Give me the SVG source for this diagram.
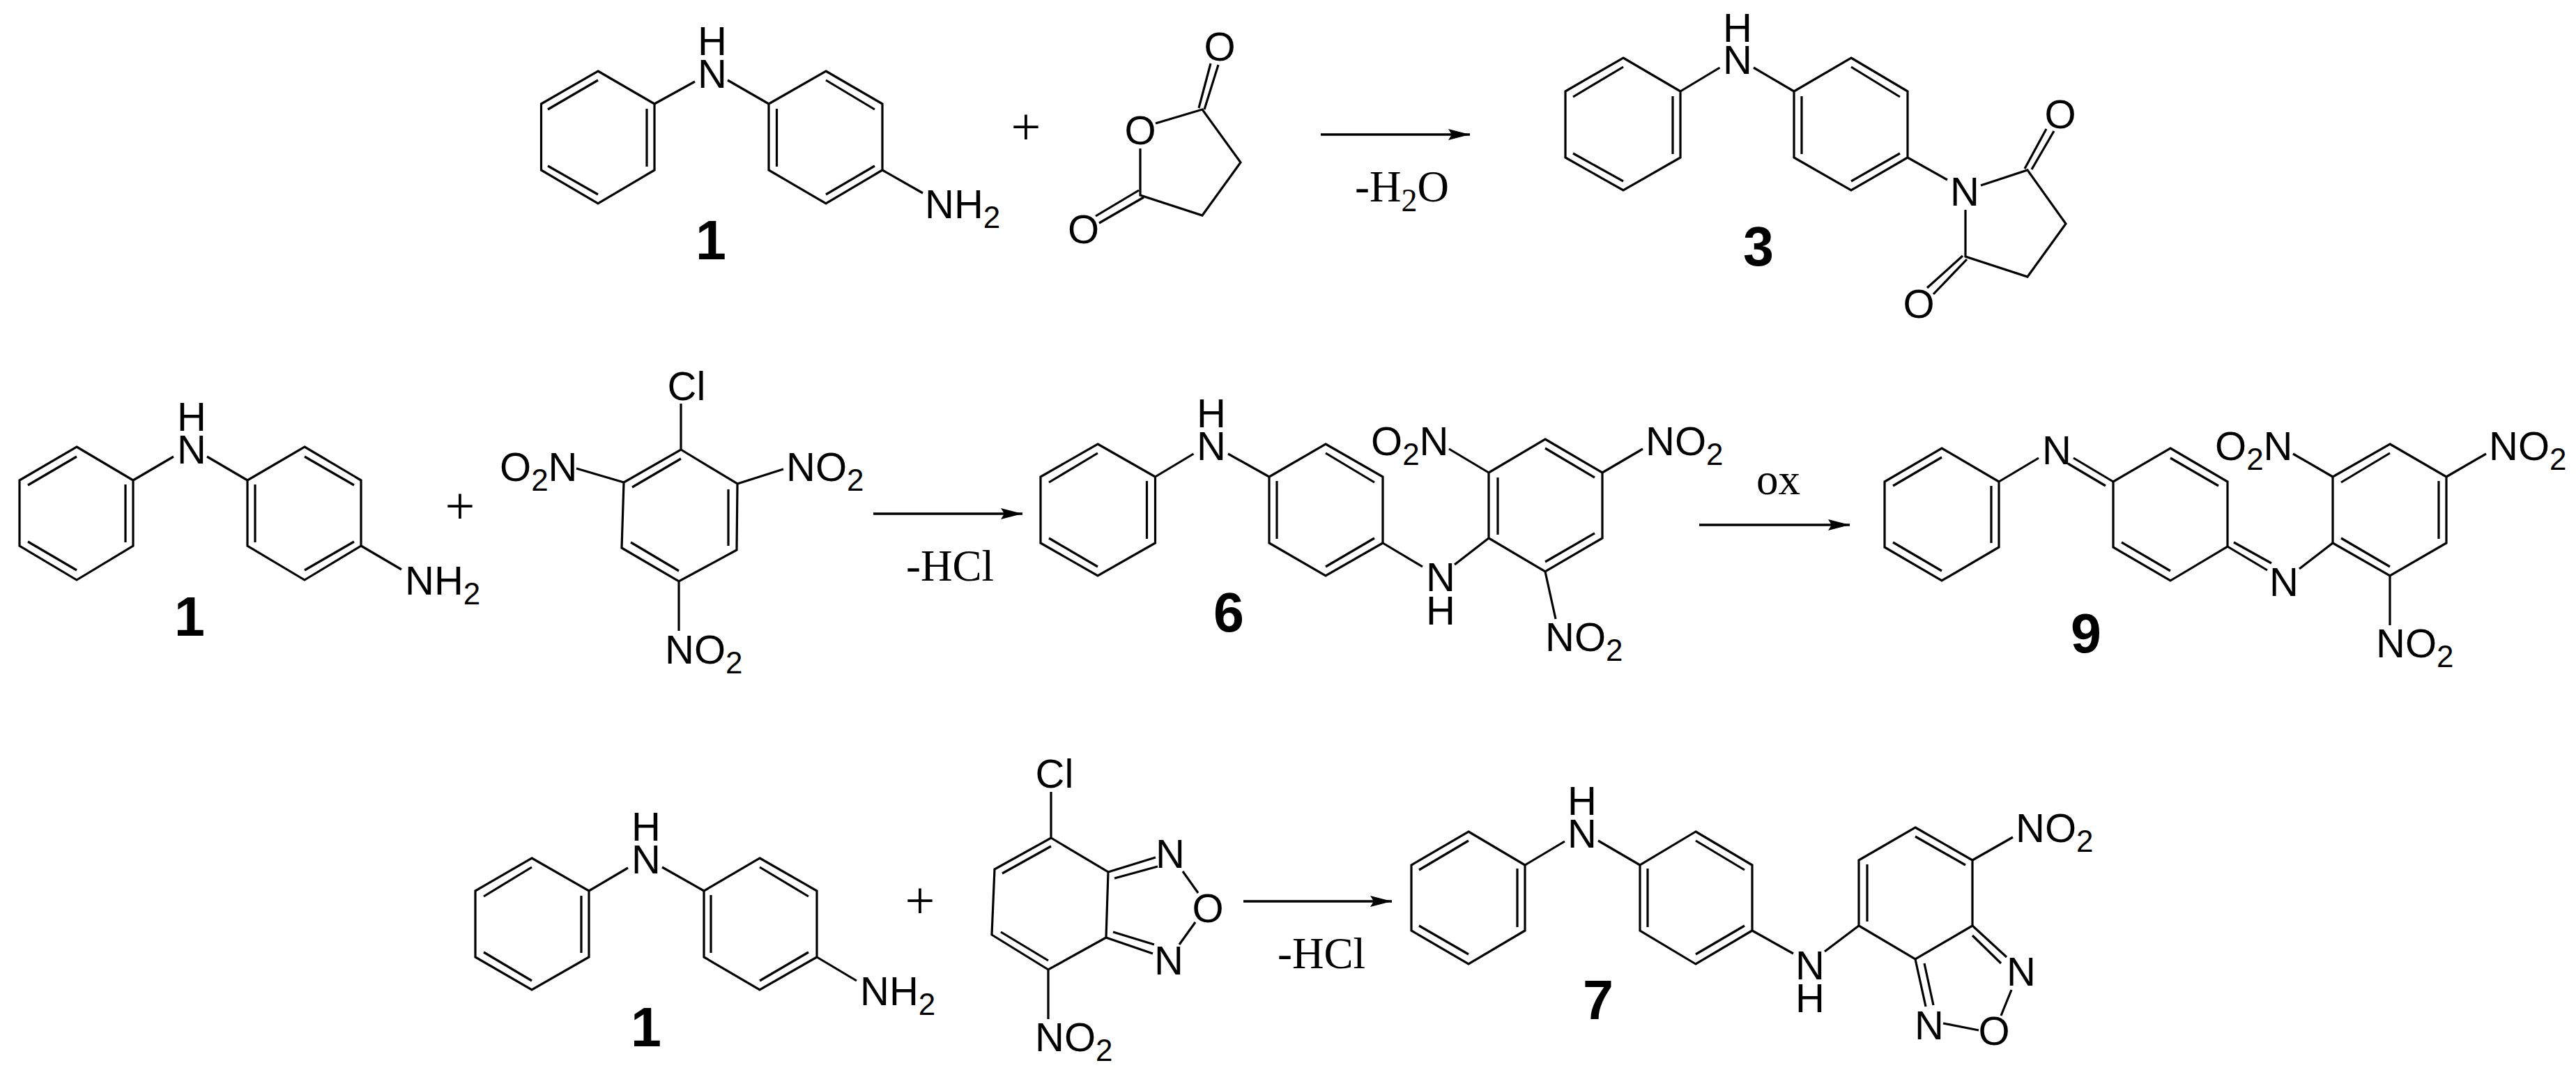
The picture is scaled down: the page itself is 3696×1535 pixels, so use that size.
<svg xmlns="http://www.w3.org/2000/svg" width="3696" height="1535" viewBox="0 0 3696 1535">
<style>
.b{fill:none;stroke:#000;stroke-width:3.2;stroke-linejoin:miter;stroke-linecap:butt}
.a{fill:none;stroke:#000;stroke-width:3.5}
text{fill:#000}
.l{font-family:"Liberation Sans",Arial,sans-serif;font-size:58px}
.c{text-anchor:middle}
.s{font-size:44px}
.n{font-family:"Liberation Sans",Arial,sans-serif;font-size:79px;font-weight:bold;text-anchor:middle}
.t{font-family:"Liberation Serif","Times New Roman",serif;font-size:63px}
.t .s{font-size:46px}
.p{font-family:"Liberation Serif","Times New Roman",serif;font-size:76px;text-anchor:middle}
</style>
<defs>
<marker id="ah" markerUnits="userSpaceOnUse" markerWidth="31" markerHeight="16" refX="31" refY="8" orient="auto"><path d="M0 0L31 8L0 16L5 8Z" fill="#000"/></marker>
</defs>
<rect width="3696" height="1535" fill="#fff"/>
<g id="connectors">
<line class="a" x1="1895" y1="193" x2="2109" y2="193" marker-end="url(#ah)"/>
<line class="a" x1="1253" y1="737" x2="1467" y2="737" marker-end="url(#ah)"/>
<line class="a" x1="2438" y1="753" x2="2654" y2="753" marker-end="url(#ah)"/>
<line class="a" x1="1784" y1="1293" x2="1997" y2="1293" marker-end="url(#ah)"/>
</g>
<g id="r1-amine">
<path class="b" d="M858 102L939 149V244L858 292L776.500 244V149ZM786 157L858 115M928 156V239M786 238L858 279"/>
<path class="b" d="M1185 102L1266 149V244L1185 292L1103 244V149ZM1185 115L1255 157M1114.500 156V239M1255 238L1185 279"/>
<path class="b" d="M939 149L997 117M1103 149L1044 115M1266 244L1324 277"/>
<text class="l c"><tspan x="1022" y="79">H</tspan><tspan x="1022" y="126">N</tspan></text>
<text class="l" x="1327" y="313">NH<tspan class="s" dy="14">2</tspan></text>
<text class="n" x="1020" y="372">1</text>
</g>
<text id="plus1" class="p" x="1472" y="207">+</text>
<g id="r1-anhydride">
<path class="b" d="M1658 177L1725 157L1780 233L1725 309L1636 280V213M1720 155L1737 91M1728 157L1748 93M1634 273L1572 310M1641 283L1577 320"/>
<text class="l c" x="1636" y="207">O</text><text class="l c" x="1750" y="87">O</text><text class="l c" x="1554.500" y="349">O</text>
</g>
<text id="minus-water" class="t" x="1944" y="289">-H<tspan class="s" dy="14">2</tspan><tspan dy="-14">O</tspan></text>
<g id="compound-3">
<path class="b" d="M2329 83L2411 131V226L2329 273L2246 226V131ZM2257 139L2329 96M2400 138V221M2257 220L2329 260"/>
<path class="b" d="M2656 83L2737 131V226L2656 273L2574 226V131ZM2656 96L2726 139M2585 138V221M2726 220L2656 260"/>
<path class="b" d="M2411 131L2467.500 97M2574 131L2516 97M2737 226L2794 258M2842 266L2909 244L2964 321L2909 397L2820 368V301M2905 242L2936 185M2915 243L2947 188M2816 367L2765 413M2822 372L2774 422"/>
<text class="l c"><tspan x="2493" y="60">H</tspan><tspan x="2493" y="106">N</tspan></text>
<text class="l c" x="2819" y="295">N</text><text class="l c" x="2956" y="184">O</text><text class="l c" x="2753" y="456">O</text>
<text class="n" x="2523" y="381">3</text>
</g>
<g id="r2-amine">
<path class="b" d="M110 641L191 689V783L110 832L28 783V689ZM40 696L110 655M180 695V778M40 777L110 818"/>
<path class="b" d="M437 641L518 689V783L437 832L355 783V689ZM437 655L508 696M366 695V778M508 777L437 818"/>
<path class="b" d="M191 689L249 655M355 689L297 655M518 783L576 817"/>
<text class="l c"><tspan x="275" y="618">H</tspan><tspan x="275" y="665">N</tspan></text>
<text class="l" x="581" y="853">NH<tspan class="s" dy="14">2</tspan></text>
<text class="n" x="272" y="912">1</text>
</g>
<text id="plus2" class="p" x="660" y="751">+</text>
<g id="picryl-chloride">
<path class="b" d="M977 645L1058 694L1057 789L974 834L892 786L895 692ZM907 699L977 658M1045 702V783M905 778L974 819M977 579V645M827 672L895 692M1124 673L1058 694M974 834V905"/>
<text class="l c" x="985" y="574">Cl</text>
<text class="l" x="717" y="690">O<tspan class="s" dy="14">2</tspan><tspan dy="-14">N</tspan></text>
<text class="l" x="1128" y="690">NO<tspan class="s" dy="14">2</tspan></text>
<text class="l" x="954" y="952">NO<tspan class="s" dy="14">2</tspan></text>
</g>
<text id="minus-hcl-1" class="t" x="1300" y="833">-HCl</text>
<g id="compound-6">
<path class="b" d="M1575 637L1657.500 684V779L1575 826L1493 779V684ZM1505 692L1575 650M1645.500 690V773M1505 772L1575 813"/>
<path class="b" d="M1902 637L1984 684V779L1902 826L1821 779V684ZM1902 650L1972 692M1832 690V773M1972 772L1902 813"/>
<path class="b" d="M2217 630L2299 678V772L2217 820L2136 772V678ZM2217 643L2288 685M2149 685V767M2288 765L2217 806"/>
<path class="b" d="M1657.500 684L1712.500 651M1821 684L1762 651M1984 779L2041 813M2087 810L2136 772M2079 644L2136 678M2357 644L2299 678M2217 820L2232 888"/>
<text class="l c"><tspan x="1738" y="613">H</tspan><tspan x="1738" y="660">N</tspan></text>
<text class="l c"><tspan x="2067" y="848">N</tspan><tspan x="2067" y="896">H</tspan></text>
<text class="l" x="1967" y="653">O<tspan class="s" dy="14">2</tspan><tspan dy="-14">N</tspan></text>
<text class="l" x="2361" y="653">NO<tspan class="s" dy="14">2</tspan></text>
<text class="l" x="2217" y="934">NO<tspan class="s" dy="14">2</tspan></text>
<text class="n" x="1763" y="906">6</text>
</g>
<text id="ox" class="t" x="2520" y="709">ox</text>
<g id="compound-9">
<path class="b" d="M2786 643L2868 691V785L2786 833L2704 785V691ZM2716 697L2786 656M2857 697V779M2716 778L2786 819"/>
<path class="b" d="M3114 643L3196 691V784L3114 833L3032 785V691ZM3114 657L3183 697M3044 778L3114 819"/>
<path class="b" d="M3429 637L3510 684V779L3429 826L3347 779V684ZM3359 692L3429 650M3499 690V773M3359 772L3429 813"/>
<path class="b" d="M2868 691L2925 657M2975 657L3032 691M2967 665L3021 697M3196 784L3253 818M3205 778L3259 808M3299 816L3347 779M3290 651L3347 684M3567 651L3510 684M3429 826V897"/>
<text class="l c" x="2951" y="666">N</text><text class="l c" x="3277" y="855">N</text>
<text class="l" x="3178" y="660">O<tspan class="s" dy="14">2</tspan><tspan dy="-14">N</tspan></text>
<text class="l" x="3571" y="660">NO<tspan class="s" dy="14">2</tspan></text>
<text class="l" x="3409" y="943">NO<tspan class="s" dy="14">2</tspan></text>
<text class="n" x="2993" y="936">9</text>
</g>
<g id="r3-amine">
<path class="b" d="M763 1231L845 1278V1373L763 1420L682 1373V1278ZM694 1286L763 1244M834 1285V1367M694 1366L763 1407"/>
<path class="b" d="M1090 1231L1172 1278V1373L1090 1420L1010 1373V1278ZM1090 1244L1160 1286M1020 1284V1367M1160 1366L1090 1407"/>
<path class="b" d="M845 1278L901 1245M1010 1278L950 1244M1172 1373L1229 1407"/>
<text class="l c"><tspan x="927" y="1206">H</tspan><tspan x="927" y="1253">N</tspan></text>
<text class="l" x="1234" y="1442">NH<tspan class="s" dy="14">2</tspan></text>
<text class="n" x="927" y="1501">1</text>
</g>
<text id="plus3" class="p" x="1320" y="1317">+</text>
<g id="nbd-chloride">
<path class="b" d="M1508 1202L1590 1251L1587 1345L1504 1391L1423 1341L1427 1247ZM1438 1253L1508 1214M1436 1337L1504 1378M1508 1136V1202M1590 1251L1658 1230M1599 1260L1661 1243M1697 1250L1719 1281M1715 1323L1692 1355M1587 1345L1654 1368M1597 1337L1656 1355M1504 1391V1462"/>
<text class="l c" x="1513" y="1130">Cl</text>
<text class="l c" x="1679" y="1245">N</text><text class="l c" x="1733" y="1323">O</text><text class="l c" x="1677" y="1398">N</text>
<text class="l" x="1485" y="1508">NO<tspan class="s" dy="14">2</tspan></text>
</g>
<text id="minus-hcl-2" class="t" x="1833" y="1389">-HCl</text>
<g id="compound-7">
<path class="b" d="M2107 1193L2188 1241V1335L2107 1383L2025 1335V1241ZM2036 1248L2107 1206M2177 1246V1330M2036 1328L2107 1369"/>
<path class="b" d="M2433 1193L2514 1241V1335L2433 1383L2353 1335V1241ZM2433 1206L2503 1248M2364 1246V1330M2503 1328L2433 1369"/>
<path class="b" d="M2748 1187L2830 1234V1328L2748 1376L2667 1328V1234ZM2748 1200L2820 1241M2679 1240V1322"/>
<path class="b" d="M2188 1241L2245 1207M2353 1241L2293 1206M2514 1335L2573 1368M2618 1365L2667 1328M2830 1234L2888 1201M2830 1328L2879 1373M2830 1342L2871 1382M2886 1420L2871 1457M2788 1468L2839 1478M2748 1376L2763 1444M2761 1382L2774 1442"/>
<text class="l c"><tspan x="2270" y="1169">H</tspan><tspan x="2270" y="1216">N</tspan></text>
<text class="l c"><tspan x="2597" y="1405">N</tspan><tspan x="2597" y="1452">H</tspan></text>
<text class="l" x="2892" y="1208">NO<tspan class="s" dy="14">2</tspan></text>
<text class="l c" x="2900" y="1414">N</text><text class="l c" x="2768" y="1491">N</text><text class="l c" x="2861" y="1499">O</text>
<text class="n" x="2293" y="1462">7</text>
</g>
</svg>
